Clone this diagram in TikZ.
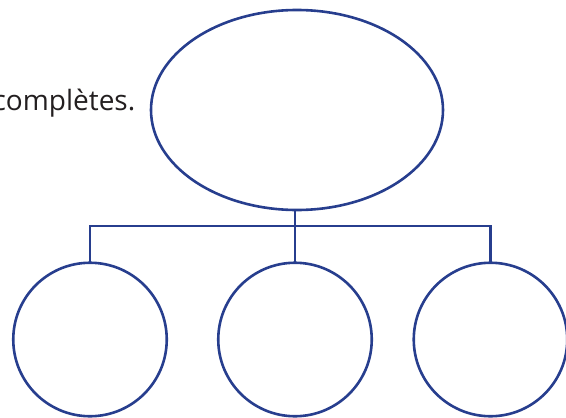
\documentclass[tikz,border=0pt]{standalone}
\usepackage{fontspec}
\setmainfont{Open Sans}
\usepackage{xcolor}
\usepackage{tikz}
\usetikzlibrary{shapes.geometric, positioning, calc}

\definecolor{mapblue}{RGB}{39,62,142}
\definecolor{inkgray}{RGB}{35,31,32}

\begin{document}
\begin{tikzpicture}[x=1pt, y=-1pt,
        mapline/.style={draw=mapblue, line width=2.6pt},
        topic/.style={mapline, ellipse, minimum width=292pt, minimum height=200pt, inner sep=0pt, outer sep=0pt},
        branch/.style={mapline, circle, minimum size=153.5pt, inner sep=0pt, outer sep=0pt}]

        \useasboundingbox (0,0) rectangle (566,418);

        % consigne (coupee a gauche)
        \node[anchor=base east, inner sep=0pt, text=inkgray, font=\fontsize{28}{33}\selectfont] (hint) at (135.5,110) {complètes.};

        % idee principale et idees secondaires
        \node[topic] (theme) at (297,110) {};
        \node[branch] (left) at (90,339.5) {};
        \node[branch] (mid) at (295,339.5) {};
        \node[branch] (right) at (490.5,339.5) {};

        \coordinate (bar) at (295,226);

        \draw[mapline] (theme.south -| mid.north) -- (mid.north);
        \draw[mapline] (left.north) |- (bar) -| (right.north);
        \end{tikzpicture}
\end{document}
